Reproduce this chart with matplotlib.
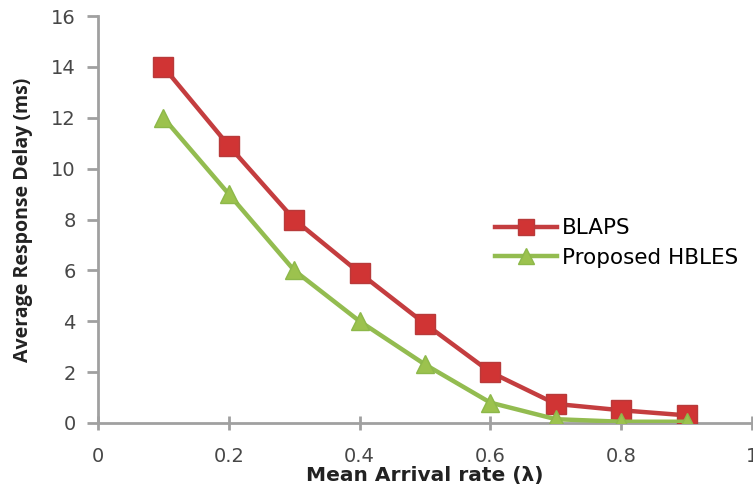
import matplotlib
matplotlib.use("Agg")
import matplotlib.pyplot as plt

x = [0.1, 0.2, 0.3, 0.4, 0.5, 0.6, 0.7, 0.8, 0.9]
blaps = [14.0, 10.9, 8.0, 5.9, 3.9, 2.0, 0.75, 0.5, 0.3]
hbles = [12.0, 9.0, 6.0, 4.0, 2.3, 0.8, 0.15, 0.05, 0.05]
xticks = [0, 0.2, 0.4, 0.6, 0.8, 1]
xticklabels = ["0", "0.2", "0.4", "0.6", "0.8", "1"]
yticks = [0, 2, 4, 6, 8, 10, 12, 14, 16]

plt.rcParams['font.family'] = ['DejaVu Sans']

fig = plt.figure(figsize=(7.53, 4.88), dpi=100)
ax = fig.add_axes([98/753, (488-423)/488, (752-98)/753, (423-16)/488])

ax.plot(x, blaps, color='#C43D3F', lw=3.2, marker='s', markersize=14,
        markerfacecolor='#D03434', markeredgecolor='#B83A3A', label='BLAPS', zorder=3)
ax.plot(x, hbles, color='#93BC50', lw=3.2, marker='^', markersize=13,
        markerfacecolor='#9CC24E', markeredgecolor='#8DB84A', label='Proposed HBLES', zorder=3)

ax.set_xlim(0, 1)
ax.set_ylim(0, 16)
ax.set_xticks(xticks)
ax.set_xticklabels(xticklabels)
ax.set_yticks(yticks)

for s in ['top', 'right']:
    ax.spines[s].set_visible(False)
for s in ['left', 'bottom']:
    ax.spines[s].set_color('#a0a0a0')
    ax.spines[s].set_linewidth(2)

ax.tick_params(axis='y', direction='out', length=8, width=2, color='#a0a0a0',
               labelsize=14, labelcolor='#474747', pad=8)
ax.tick_params(axis='x', direction='inout', length=10, width=2, color='#a0a0a0',
               labelsize=14, labelcolor='#474747', pad=12)

ax.set_xlabel('Mean Arrival rate (\u03bb)', fontsize=14.5, fontweight='bold',
              labelpad=0, color='#222222')
ax.set_ylabel('Average Response Delay (ms)', fontsize=14, fontweight='bold',
              family='Open Sans', color='#222222')
ax.yaxis.set_label_coords(-0.1, 0.5)

ax.legend(loc='upper left', bbox_to_anchor=(0.607, 0.503), frameon=False, fontsize=15.5,
          handlelength=2.9, handletextpad=0.2, labelspacing=0.45, borderaxespad=0,
          borderpad=0, markerscale=0.85)

fig.savefig('out.png', dpi=100)
